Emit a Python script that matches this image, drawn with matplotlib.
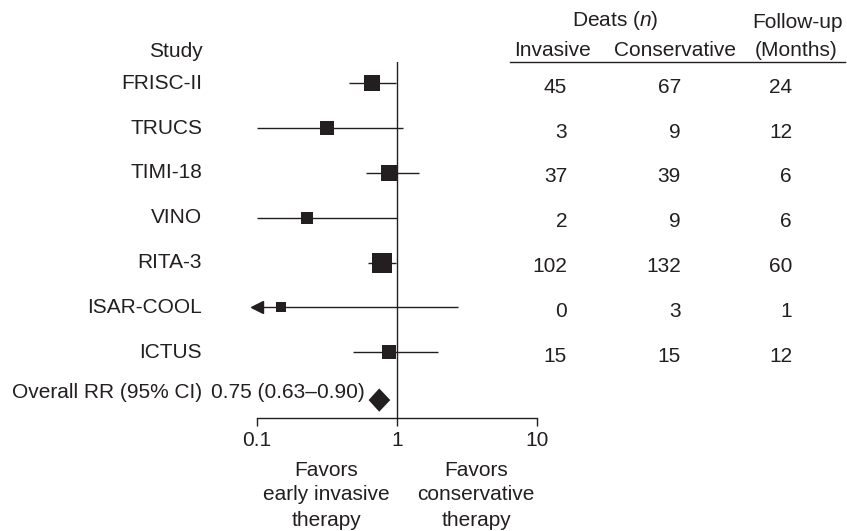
import numpy as np
import matplotlib
matplotlib.use('Agg')
import matplotlib.pyplot as plt
from matplotlib import transforms
from matplotlib.lines import Line2D
from matplotlib.ticker import NullLocator

plt.rcParams['font.family'] = 'Liberation Sans'
plt.rcParams['mathtext.fontset'] = 'custom'
plt.rcParams['mathtext.rm'] = 'Liberation Sans'
plt.rcParams['mathtext.it'] = 'Liberation Sans:italic'

# per-study risk ratios with 95% CI
studies = ['FRISC-II', 'TRUCS', 'TIMI-18', 'VINO', 'RITA-3', 'ISAR-COOL', 'ICTUS']
rr = [0.67, 0.32, 0.88, 0.23, 0.79, 0.15, 0.88]
ci_low = [0.46, 0.10, 0.60, 0.10, 0.62, 0.0, 0.49]
ci_high = [0.99, 1.11, 1.45, 1.0, 0.99, 2.73, 1.97]

deaths_invasive = [45, 3, 37, 2, 102, 0, 15]
deaths_conservative = [67, 9, 39, 9, 132, 3, 15]
followup_months = [24, 12, 6, 6, 60, 1, 12]

overall_rr = 0.75
overall_low = 0.63
overall_high = 0.90

# box side (points), roughly by study weight
box_size = [12.0, 9.6, 12.0, 8.6, 14.9, 6.7, 10.1]

ink = '#231f20'
fs = 15
W, H = 847, 531

fig = plt.figure(figsize=(W / 100, H / 100), dpi=100)
ax = fig.add_axes([256.7 / W, (H - 418) / H, 280 / W, (418 - 62) / H])

xmin, xmax = 0.1, 10
rows = np.arange(len(studies))
overall_row = 7.0

for i in rows:
    lo = max(ci_low[i], xmin)
    ax.hlines(i, lo, ci_high[i], color=ink, lw=1.0)
    if ci_low[i] < xmin:
        if ci_low[i] <= 0:
            # lower limit off the scale -> arrow
            ax.plot(xmin * 1.013, i, marker='<', ms=8, color=ink, clip_on=False)
    ax.plot(rr[i], i, marker='s', ms=box_size[i], color=ink, mec=ink, mew=0)

# pooled estimate diamond
dy = 0.26
ax.fill([overall_low, overall_rr, overall_high, overall_rr],
        [overall_row + 0.07, overall_row + 0.07 - dy, overall_row + 0.07, overall_row + 0.07 + dy],
        color=ink, lw=0)

ax.axvline(1, color=ink, lw=1.0)

ax.set_xscale('log')
ax.set_xlim(xmin, xmax)
ax.set_ylim(7.47, -0.475)
ax.set_xticks([0.1, 1, 10])
ax.set_xticklabels(['0.1', '1', '10'])
ax.xaxis.set_minor_locator(NullLocator())
ax.tick_params(axis='x', direction='out', length=6, width=1.0, color=ink,
               labelsize=fs, labelcolor=ink, pad=3.7)
ax.set_yticks([])
for s in ['left', 'right', 'top']:
    ax.spines[s].set_visible(False)
ax.spines['bottom'].set_color(ink)
ax.spines['bottom'].set_linewidth(1.0)
ax.patch.set_visible(False)

# text columns: x in figure fraction, y in row units
row_trans = transforms.blended_transform_factory(fig.transFigure, ax.transData)
num_trans = transforms.offset_copy(row_trans, fig=fig, y=-4, units='dots')

for i in rows:
    ax.text(202 / W, i, studies[i], transform=row_trans, ha='right', va='center',
            fontsize=fs, color=ink)
    ax.text(567 / W, i, str(deaths_invasive[i]), transform=num_trans, ha='right',
            va='center', fontsize=fs, color=ink)
    ax.text(681 / W, i, str(deaths_conservative[i]), transform=num_trans, ha='right',
            va='center', fontsize=fs, color=ink)
    ax.text(792 / W, i, str(followup_months[i]), transform=num_trans, ha='right',
            va='center', fontsize=fs, color=ink)

ax.text(202 / W, overall_row - 0.1, 'Overall RR (95% CI)', transform=row_trans,
        ha='right', va='center', fontsize=fs, color=ink)
ax.text(211 / W, overall_row - 0.1,
        '%.2f (%.2f\u2013%.2f)' % (overall_rr, overall_low, overall_high),
        transform=row_trans, ha='left', va='center', fontsize=fs, color=ink)

def fy(px):
    return 1 - px / H

fig.text(203 / W, fy(51.7), 'Study', ha='right', va='center', fontsize=fs, color=ink)
fig.text(615.5 / W, fy(20), 'Deats ($\\mathit{n}$)', ha='center', va='center',
         fontsize=fs, color=ink)
fig.text(797.5 / W, fy(23), 'Follow-up', ha='center', va='center', fontsize=fs, color=ink)
fig.text(552 / W, fy(50), 'Invasive', ha='center', va='center', fontsize=fs, color=ink)
fig.text(675 / W, fy(50), 'Conservative', ha='center', va='center', fontsize=fs, color=ink)
fig.text(796 / W, fy(50), '(Months)', ha='center', va='center', fontsize=fs, color=ink)
fig.add_artist(Line2D([510 / W, 845 / W], [fy(62), fy(62)], color=ink, lw=1.0))

left_note = ['Favors', 'early invasive', 'therapy']
right_note = ['Favors', 'conservative', 'therapy']
for k, (a, b) in enumerate(zip(left_note, right_note)):
    y = fy(470 + 25 * k)
    fig.text(326.5 / W, y, a, ha='center', va='center', fontsize=fs, color=ink)
    fig.text(476 / W, y, b, ha='center', va='center', fontsize=fs, color=ink)

fig.savefig('out.png', dpi=100)
